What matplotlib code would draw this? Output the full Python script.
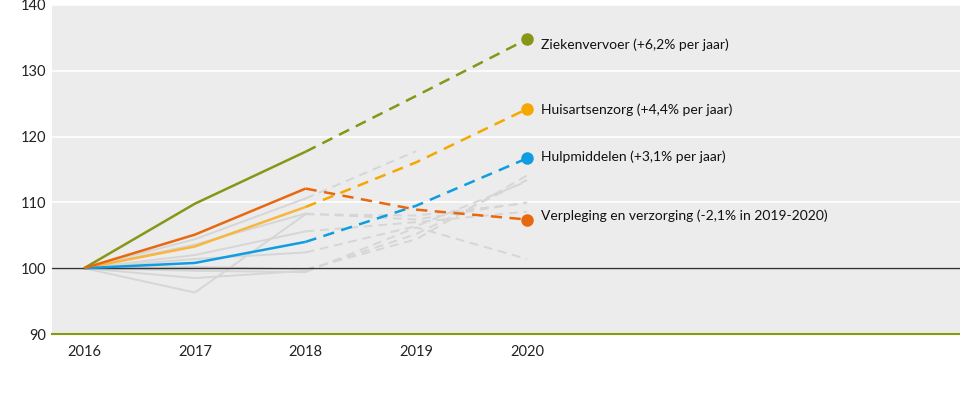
import matplotlib
matplotlib.use("Agg")
import matplotlib.pyplot as plt
import numpy as np

years = [2016, 2017, 2018, 2019, 2020]

# highlighted series
names = ["Ziekenvervoer (+6,2% per jaar)", "Huisartsenzorg (+4,4% per jaar)",
         "Hulpmiddelen (+3,1% per jaar)", "Verpleging en verzorging (-2,1% in 2019-2020)"]
ziekenvervoer = [100, 109.8, 117.7, 126.2, 134.8]
huisartsenzorg = [100, 103.3, 109.3, 116.1, 124.2]
hulpmiddelen = [100, 100.8, 104.0, 109.5, 116.7]
verpleging = [100, 105.1, 112.1, 108.9, 107.4]
label_y = [133.9, 124.1, 116.9, 108.0]
colors = ["#879616", "#f5a800", "#0f9ce0", "#e8680f"]
solid_colors = ["#879616", "#f9b53c", "#0f9ce0", "#e8680f"]

# other (grey) series
grey_series = [
    [100, 96.3, 108.2, 108.0, 109.9],
    [100, 98.5, 99.6, 105.2, 113.4],
    [100, 104.4, 110.6, 117.8, np.nan],
    [100, 102.0, 105.6, 107.0, 108.6],
    [100, 101.4, 102.4, 106.4, 113.2],
    [100, 100.2, 99.8, 104.4, 114.1],
    [100, 99.6, 99.4, 106.2, 101.4],
    [100, 103.6, 108.3, 107.4, 110.0],
]

fig = plt.figure(figsize=(9.6, 3.94), dpi=100)
ax = fig.add_axes([52/960, 60/394, 908/960, 329/394])
ax.set_facecolor("#ececec")
for s in ["top", "right", "left"]:
    ax.spines[s].set_visible(False)
ax.spines["bottom"].set_color("#8a9a14")
ax.spines["bottom"].set_linewidth(1.5)

ax.set_xlim(2015.71, 2023.91)
ax.set_ylim(90, 140)
ax.set_yticks([90, 100, 110, 120, 130, 140])
ax.set_xticks(years)
ax.tick_params(length=0, labelsize=10.5, colors="#222222")
ax.tick_params(axis="x", pad=8)
ax.tick_params(axis="y", pad=4)
for lab in ax.get_xticklabels() + ax.get_yticklabels():
    lab.set_fontfamily("Lato")
ax.grid(axis="y", color="white", linewidth=1.2)
ax.set_axisbelow(True)
ax.axhline(100, color="#333333", linewidth=1.0, zorder=2)

dash = (0, (4.5, 3))
for s in grey_series:
    ax.plot(years[:3], s[:3], color="#d6d6d6", linewidth=1.4, zorder=1.5)
    ax.plot(years[2:], s[2:], color="#d6d6d6", linewidth=1.4, linestyle=dash, zorder=1.5)

series = [ziekenvervoer, huisartsenzorg, hulpmiddelen, verpleging]
for vals, c, sc, name, ly in zip(series, colors, solid_colors, names, label_y):
    ax.plot(years[:3], vals[:3], color=sc, linewidth=1.8, zorder=3, solid_capstyle="butt")
    ax.plot(years[2:], vals[2:], color=c, linewidth=1.8, linestyle=dash, zorder=3)
    ax.plot(years[-1], vals[-1], "o", color=c, markersize=8, zorder=4)
    ax.text(2020.13, ly, name, fontsize=10, fontfamily="Lato", color="#111111",
            va="center", ha="left")

fig.savefig("out.png", dpi=100)
